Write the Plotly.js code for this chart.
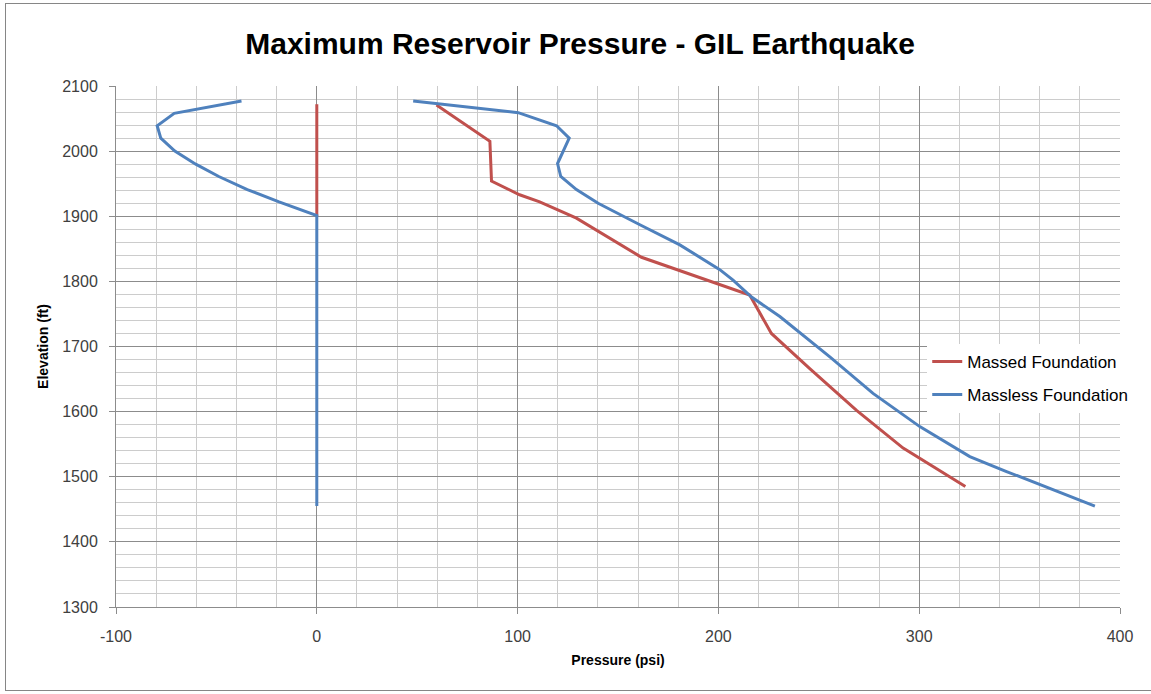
<!DOCTYPE html>
<html>
<head>
<meta charset="utf-8">
<script src="https://cdn.plot.ly/plotly-3.0.1.min.js"></script>
<style>
  html, body { margin: 0; padding: 0; background: #fff; }
  #wrap { position: relative; width: 1151px; height: 694px; }
  #chart { width: 1151px; height: 694px; }
  #frame { position: absolute; left: 5px; top: 3px; width: 1160px; height: 686px;
           border: 1px solid #868686; pointer-events: none; }
</style>
</head>
<body>
<div id="wrap">
  <div id="chart"></div>
  <div id="frame"></div>
</div>
<script>
// Massed Foundation (main curve)
const massedPressure = [59.6, 86.2, 87, 101, 111, 129.3, 161.7, 199, 215.6, 226.4, 245.5, 268.8, 292, 323];
const massedElev     = [2071, 2015, 1954, 1933, 1922, 1897, 1837, 1797, 1779, 1720, 1666, 1602, 1544, 1485];
// Massed Foundation (zero segment)
const massedZeroPressure = [0, 0];
const massedZeroElev     = [2072, 1900];

// Massless Foundation (right curve)
const masslessPressure = [48, 59.6, 100.3, 119.4, 125.7, 119.9, 121.5, 129.3, 140.1, 160.9, 180.8, 200.7, 207.3, 216.5, 230.6, 255.5, 277, 300.3, 325.2, 343.5, 387.5];
const masslessElev     = [2077, 2073, 2059, 2039, 2020, 1981, 1961, 1941, 1920, 1887, 1856, 1818, 1802, 1776, 1746, 1684, 1628, 1577, 1531, 1508, 1455];
// Massless Foundation (left loop + zero segment)
const masslessLeftPressure = [-37.5, -71, -79.5, -77.7, -70.7, -60.3, -48.8, -34.6, -18.8, 0, 0];
const masslessLeftElev     = [2077, 2058, 2039, 2020, 2000, 1980, 1961, 1941, 1922, 1901, 1455];

// Tick labels
const xTickVals = [-100, 0, 100, 200, 300, 400];
const xTickText = ['-100', '0', '100', '200', '300', '400'];
const yTickVals = [1300, 1400, 1500, 1600, 1700, 1800, 1900, 2000, 2100];
const yTickText = ['1300', '1400', '1500', '1600', '1700', '1800', '1900', '2000', '2100'];

const red = '#C0504D';
const blue = '#4F81BD';
const lw = 3;

const traces = [
  { x: massedPressure, y: massedElev, mode: 'lines', name: 'Massed Foundation',
    line: { color: red, width: lw }, legendgroup: 'a' },
  { x: massedZeroPressure, y: massedZeroElev, mode: 'lines', name: 'Massed Foundation',
    line: { color: red, width: lw }, legendgroup: 'a', showlegend: false },
  { x: masslessPressure, y: masslessElev, mode: 'lines', name: 'Massless Foundation',
    line: { color: blue, width: lw }, legendgroup: 'b' },
  { x: masslessLeftPressure, y: masslessLeftElev, mode: 'lines', name: 'Massless Foundation',
    line: { color: blue, width: lw }, legendgroup: 'b', showlegend: false }
];

const FAM = 'Liberation Sans, Arial, sans-serif';
const axisFont = { family: FAM, size: 16, color: '#404040' };
const gridMajor = '#8c8c8c';
const gridMinor = '#cccccc';

const layout = {
  width: 1151, height: 694,
  margin: { l: 116, r: 31, t: 86, b: 87 },
  paper_bgcolor: '#ffffff', plot_bgcolor: '#ffffff',
  font: { family: FAM, color: '#000' },
  title: { text: '<b>Maximum Reservoir Pressure - GIL Earthquake</b>',
           font: { family: FAM, size: 30, color: '#000' },
           x: 0.504, xref: 'container', xanchor: 'center',
           y: 0.938, yref: 'container', yanchor: 'middle' },
  xaxis: {
    range: [-100, 400], tickmode: 'array', tickvals: xTickVals, ticktext: xTickText,
    showgrid: true, gridcolor: gridMajor, gridwidth: 1,
    minor: { dtick: 20, tick0: 0, showgrid: true, gridcolor: gridMinor, gridwidth: 1 },
    zeroline: false, showline: true, linecolor: gridMajor, mirror: false,
    ticks: 'outside', ticklen: 6, tickcolor: gridMajor,
    tickfont: axisFont, ticklabelstandoff: 9,
    title: { text: '<b>Pressure (psi)</b>', font: { size: 14, color: '#000', family: FAM }, standoff: 10 }
  },
  yaxis: {
    range: [1300, 2100], tickmode: 'array', tickvals: yTickVals, ticktext: yTickText,
    showgrid: true, gridcolor: gridMajor, gridwidth: 1,
    minor: { dtick: 20, tick0: 0, showgrid: true, gridcolor: gridMinor, gridwidth: 1 },
    zeroline: false, showline: true, linecolor: gridMajor,
    ticks: 'outside', ticklen: 6, tickcolor: gridMajor,
    tickfont: axisFont, ticklabelstandoff: 8,
    title: { text: '<b>Elevation (ft)</b>', font: { size: 14, color: '#000', family: FAM }, standoff: 10 }
  },
  showlegend: true,
  legend: {
    x: 0.808, xanchor: 'left', y: 0.505, yanchor: 'top',
    bgcolor: '#ffffff', borderwidth: 0,
    font: { family: FAM, size: 17, color: '#000' },
    traceorder: 'grouped', tracegroupgap: 8
  }
};

Plotly.newPlot('chart', traces, layout, { staticPlot: true, displayModeBar: false });
</script>
</body>
</html>
